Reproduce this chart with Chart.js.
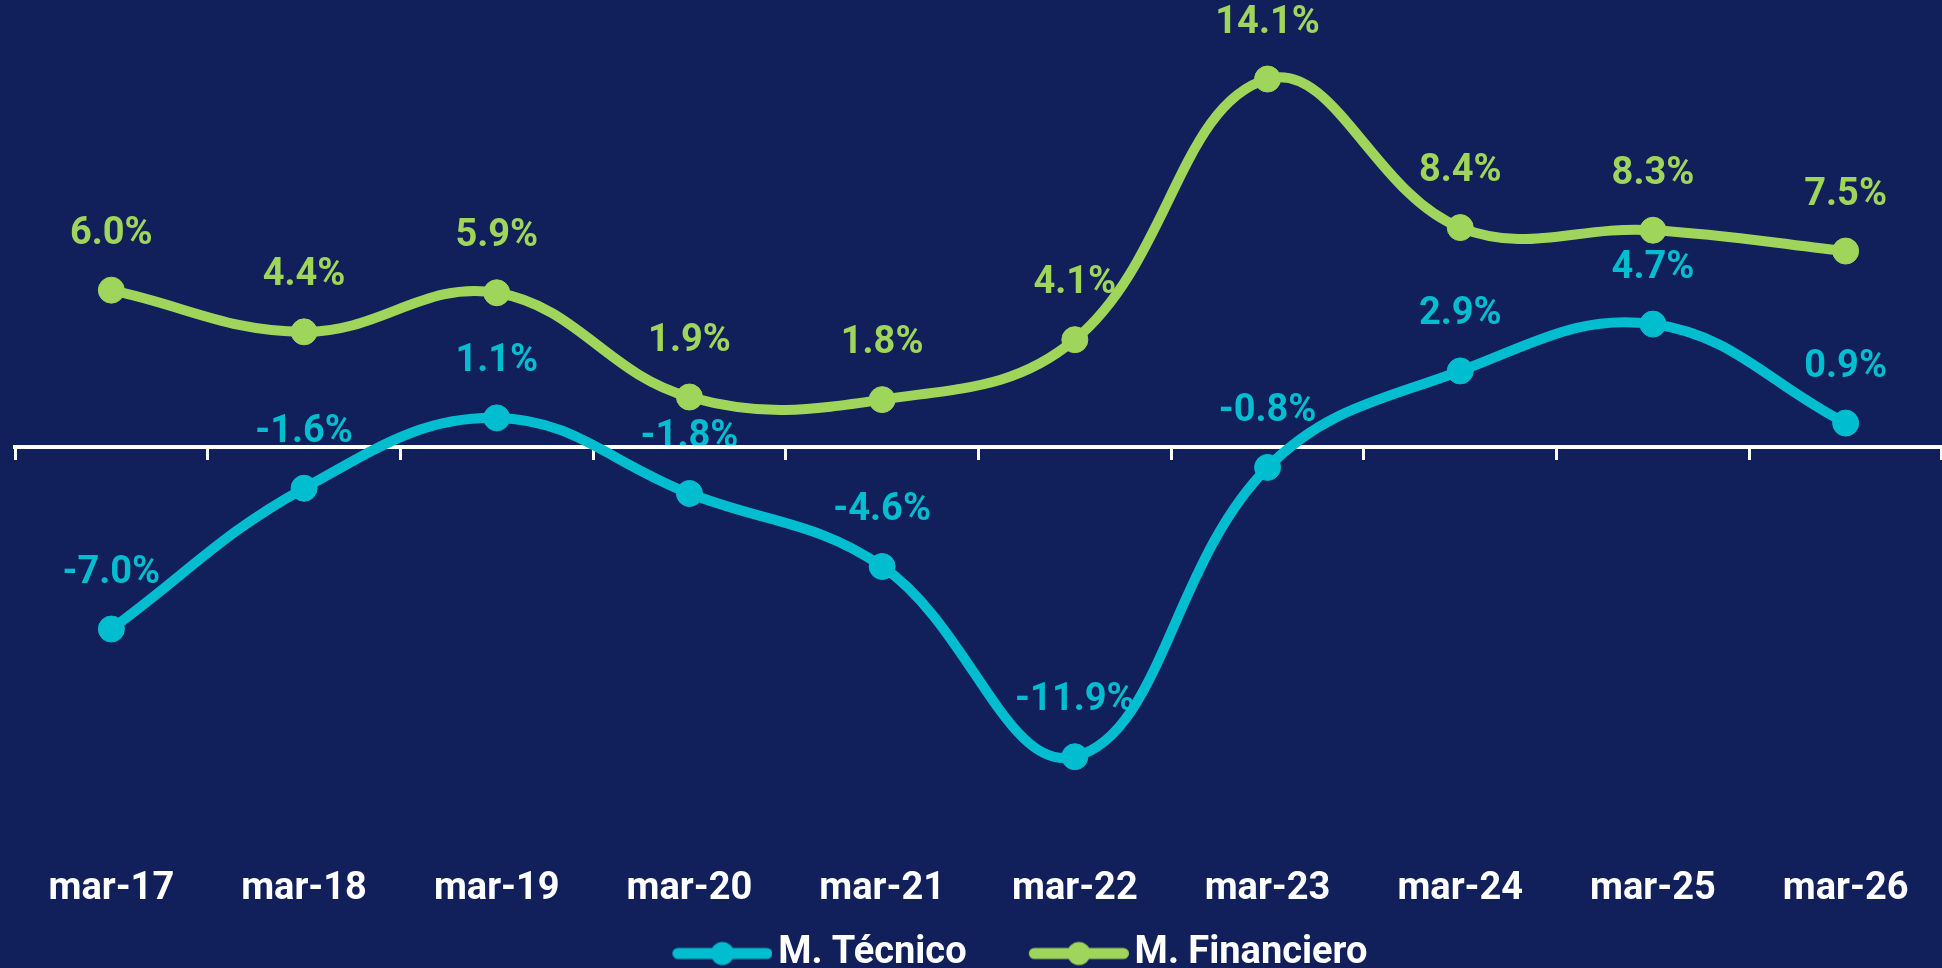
<!DOCTYPE html>
<html>
<head>
<meta charset="utf-8">
<script src="https://cdn.jsdelivr.net/npm/chart.js@4.4.1/dist/chart.umd.min.js"></script>
<style>
  html, body { margin: 0; padding: 0; background: #111f5a; overflow: hidden; }
  #wrap { width: 1942px; height: 968px; }
</style>
</head>
<body>
<div id="wrap"><canvas id="lineChart"></canvas></div>
<script>
const periods = ['mar-17', 'mar-18', 'mar-19', 'mar-20', 'mar-21', 'mar-22', 'mar-23', 'mar-24', 'mar-25', 'mar-26'];
const tecnico = [-7.0, -1.6, 1.1, -1.8, -4.6, -11.9, -0.8, 2.9, 4.7, 0.9];
const financiero = [6.0, 4.4, 5.9, 1.9, 1.8, 4.1, 14.1, 8.4, 8.3, 7.5];
const seriesNames = ['M. Técnico', 'M. Financiero'];

const navy = '#111f5a';
const teal = '#00bdd0';
const green = '#9fd55a';

const swatchBox = 134.5;

Chart.defaults.font.family = 'Roboto';
Chart.defaults.font.weight = 'bold';

// legend sample: line with a dot, on the right end of a wider transparent canvas
function legendSwatch(color) {
  const c = document.createElement('canvas');
  c.width = Math.round(swatchBox + 26);
  c.height = 26;
  const g = c.getContext('2d');
  const x0 = c.width - 100;
  g.strokeStyle = color;
  g.fillStyle = color;
  g.lineWidth = 11;
  g.lineCap = 'round';
  g.beginPath();
  g.moveTo(x0 + 5.5, 13);
  g.lineTo(c.width - 5.5, 13);
  g.stroke();
  g.beginPath();
  g.arc(x0 + 50, 13, 11.5, 0, Math.PI * 2);
  g.fill();
  return c;
}

// background + value labels, drawn under the axis and the lines
const valueLabels = {
  id: 'valueLabels',
  beforeDraw(chart) {
    const ctx = chart.ctx;
    ctx.save();
    ctx.fillStyle = navy;
    ctx.fillRect(0, 0, chart.width, chart.height);
    ctx.font = 'bold 38px Roboto';
    ctx.textAlign = 'center';
    ctx.textBaseline = 'middle';
    chart.data.datasets.forEach((ds, i) => {
      const meta = chart.getDatasetMeta(i);
      ctx.fillStyle = ds.borderColor;
      meta.data.forEach((pt, j) => {
        ctx.fillText(ds.data[j].toFixed(1) + '%', pt.x, pt.y - 56);
      });
    });
    ctx.restore();
  }
};

// the legend sits a little right of centre in the original
const legendNudge = {
  id: 'legendNudge',
  afterLayout(chart) {
    chart.legend.left += 16;
    chart.legend.right += 16;
  }
};

const ctx = document.getElementById('lineChart').getContext('2d');
new Chart(ctx, {
  type: 'line',
  data: {
    labels: periods,
    datasets: [
      {
        label: seriesNames[0],
        data: tecnico,
        borderColor: teal,
        backgroundColor: teal,
        borderWidth: 10,
        tension: 0.4,
        pointRadius: 13,
        pointBorderWidth: 1,
        pointBackgroundColor: teal,
        pointBorderColor: teal
      },
      {
        label: seriesNames[1],
        data: financiero,
        borderColor: green,
        backgroundColor: green,
        borderWidth: 10,
        tension: 0.4,
        pointRadius: 13,
        pointBorderWidth: 1,
        pointBackgroundColor: green,
        pointBorderColor: green
      }
    ]
  },
  options: {
    responsive: true,
    maintainAspectRatio: false,
    animation: false,
    layout: {
      autoPadding: false,
      padding: { top: 29.5, left: 15, right: -3, bottom: -14.5 }
    },
    plugins: {
      tooltip: { enabled: false },
      legend: {
        display: true,
        position: 'bottom',
        labels: {
          color: '#ffffff',
          font: { size: 38, weight: 'bold' },
          usePointStyle: true,
          pointStyleWidth: swatchBox,
          padding: 14.5,
          generateLabels(chart) {
            return chart.data.datasets.map((ds, i) => ({
              text: ds.label,
              pointStyle: legendSwatch(ds.borderColor),
              fillStyle: ds.borderColor,
              strokeStyle: ds.borderColor,
              lineWidth: 0,
              fontColor: '#ffffff',
              hidden: false,
              datasetIndex: i
            }));
          }
        }
      }
    },
    scales: {
      x: {
        offset: true,
        grid: { display: false, drawTicks: false },
        border: { display: false },
        ticks: {
          color: '#ffffff',
          font: { size: 38, weight: 'bold' },
          padding: 8,
          maxRotation: 0,
          autoSkip: false
        }
      },
      x2: {
        type: 'category',
        axis: 'x',
        position: { y: 0 },
        offset: true,
        border: { display: true, color: '#ffffff', width: 4 },
        grid: {
          display: true,
          offset: true,
          drawOnChartArea: false,
          drawTicks: true,
          tickLength: 11,
          tickWidth: 3,
          tickColor: '#ffffff',
          color: '#ffffff'
        },
        ticks: { display: false }
      },
      y: {
        display: false,
        min: -15.8,
        max: 16
      }
    }
  },
  plugins: [valueLabels, legendNudge]
});
</script>
</body>
</html>
